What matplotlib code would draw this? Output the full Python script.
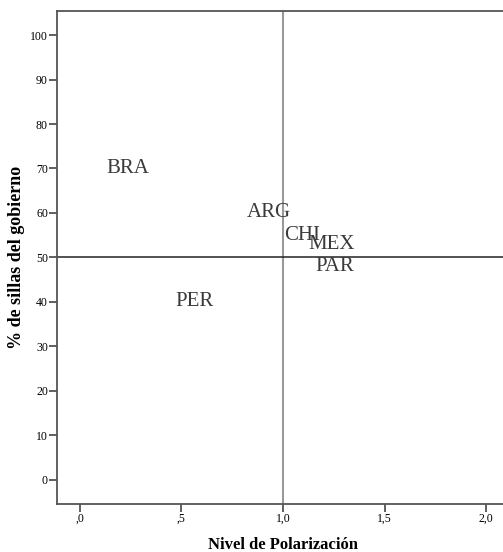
import matplotlib
matplotlib.use("Agg")
import matplotlib.pyplot as plt

# datos
paises = ["BRA", "ARG", "CHI", "MEX", "PAR", "PER"]
polarizacion = [0.236, 0.928, 1.094, 1.237, 1.254, 0.564]
sillas = [70, 60, 55, 53, 48, 40]

x_ticks = [0.0, 0.5, 1.0, 1.5, 2.0]
x_ticklabels = [",0", ",5", "1,0", "1,5", "2,0"]
y_ticks = [0, 10, 20, 30, 40, 50, 60, 70, 80, 90, 100]

plt.rcParams['font.family'] = ['Liberation Serif', 'DejaVu Serif']

fig = plt.figure(figsize=(5.03, 5.52), dpi=100)
ax = fig.add_axes([57 / 503, 48 / 552, 451 / 503, 493.3 / 552])

ax.set_xlim(-0.113, 2.108)
ax.set_ylim(-5.5, 105.5)

# lineas de referencia
ax.axvline(1.0, color="#999999", linewidth=1.5, zorder=1)
ax.axhline(50, color="#222222", linewidth=1.1, zorder=1)

for nombre, xv, yv in zip(paises, polarizacion, sillas):
    ax.text(xv, yv, nombre, ha="center", va="center", fontsize=15,
            color="#3a3a3a", zorder=3)

ax.set_xticks(x_ticks)
ax.set_xticklabels(x_ticklabels)
ax.set_yticks(y_ticks)
ax.tick_params(axis="both", direction="out", length=5.5, width=1.2,
               color="#444444", labelsize=8.5, pad=1)

for s in ax.spines.values():
    s.set_color("#555555")
    s.set_linewidth(1.3)

# titulos de ejes colocados a mano (el eje derecho queda fuera de la imagen)
fig.text(283 / 503, 7 / 552, "Nivel de Polarización", ha="center", va="center",
         fontsize=12, fontweight="bold")
fig.text(17 / 503, (552 - 257) / 552, "% de sillas del gobierno", ha="center",
         va="center", rotation=90, fontsize=13, fontweight="bold")

fig.savefig("out.png", dpi=100)
